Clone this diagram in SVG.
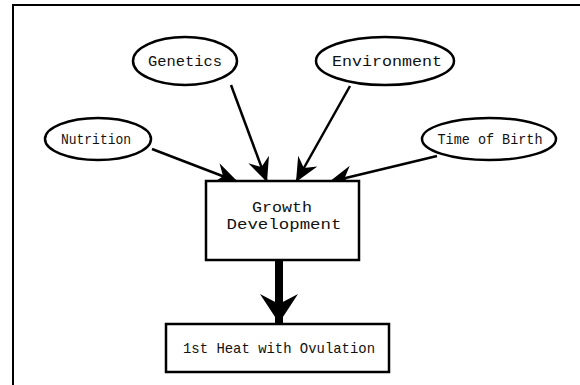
<svg xmlns="http://www.w3.org/2000/svg" width="580" height="385" viewBox="0 0 580 385">
<style>
.n{fill:#fff;stroke:#000;stroke-width:2.5}
.t{font-family:"Liberation Mono","Courier New",monospace;font-size:15px;fill:#111;text-anchor:middle}
.e{stroke:#000;stroke-width:2.5;fill:none;marker-end:url(#ah)}
</style>
<defs>
<marker id="ah" markerUnits="userSpaceOnUse" markerWidth="26" markerHeight="24" viewBox="0 0 26 24" refX="24" refY="12" orient="auto">
<path d="M0,1 L24,12 L0,23 L8,12 Z" fill="#000"/>
</marker>
<marker id="big" markerUnits="userSpaceOnUse" markerWidth="32" markerHeight="42" viewBox="0 0 32 42" refX="29" refY="21" orient="auto">
<path d="M0,2 L29,21 L0,40 L10,21 Z" fill="#000"/>
</marker>
</defs>
<rect x="0" y="0" width="580" height="385" fill="#fff"/>
<rect x="13" y="5" width="620" height="420" fill="none" stroke="#000" stroke-width="2"/>
<g id="connectors">
<line class="e" x1="152" y1="149" x2="238" y2="182"/>
<line class="e" x1="231" y1="85" x2="267" y2="182"/>
<line class="e" x1="350" y1="86" x2="296" y2="182"/>
<line class="e" x1="437" y1="156" x2="329" y2="182"/>
<line x1="279" y1="261" x2="279" y2="323" stroke="#000" stroke-width="8" marker-end="url(#big)"/>
</g>
<g id="genetics">
<ellipse class="n" cx="185" cy="61" rx="52" ry="24"/>
<text class="t" x="185" y="66" textLength="74" lengthAdjust="spacingAndGlyphs">Genetics</text>
</g>
<g id="environment">
<ellipse class="n" cx="385" cy="61" rx="69" ry="24"/>
<text class="t" x="387" y="66" textLength="110" lengthAdjust="spacingAndGlyphs">Environment</text>
</g>
<g id="nutrition">
<ellipse class="n" cx="98" cy="139" rx="53" ry="21"/>
<text class="t" x="96" y="144" textLength="70" lengthAdjust="spacingAndGlyphs">Nutrition</text>
</g>
<g id="timeofbirth">
<ellipse class="n" cx="489" cy="139" rx="67" ry="21"/>
<text class="t" x="490" y="144" textLength="105" lengthAdjust="spacingAndGlyphs">Time of Birth</text>
</g>
<g id="growth">
<rect class="n" x="206" y="181" width="153" height="79"/>
<text class="t" x="282" y="212" textLength="60" lengthAdjust="spacingAndGlyphs">Growth</text>
<text class="t" x="284" y="229" textLength="115" lengthAdjust="spacingAndGlyphs">Development</text>
</g>
<g id="heat">
<rect class="n" x="166" y="324" width="223" height="48"/>
<text class="t" x="279" y="353" textLength="192" lengthAdjust="spacingAndGlyphs">1st Heat with Ovulation</text>
</g>
</svg>
